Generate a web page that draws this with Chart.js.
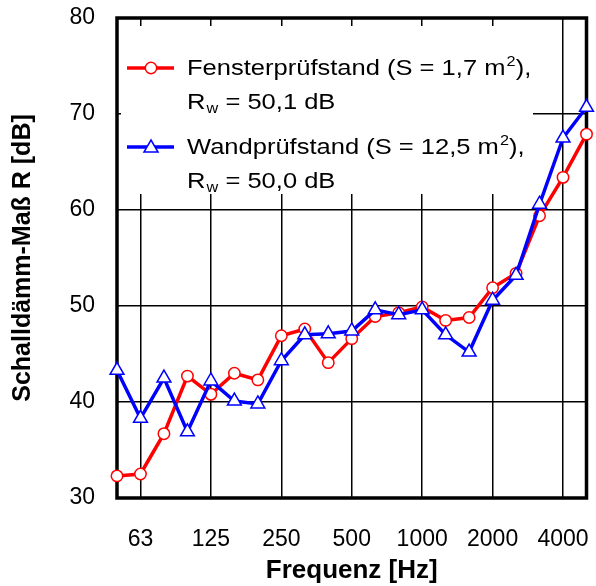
<!DOCTYPE html>
<html>
<head>
<meta charset="utf-8">
<script src="https://cdn.jsdelivr.net/npm/chart.js@4/dist/chart.umd.min.js"></script>
<style>
    html, body { margin: 0; padding: 0; background: #fff; }
    #wrap { width: 596px; height: 586px; }
</style>
</head>
<body>
<div id="wrap"><canvas id="schallChart"></canvas></div>
<script>
// Terzbänder und gemessene Schalldämm-Maße
const frequencies = [50, 63, 80, 100, 125, 160, 200, 250, 315, 400, 500, 630, 800, 1000, 1250, 1600, 2000, 2500, 3150, 4000, 5000];
const fensterR = [32.3, 32.5, 36.7, 42.7, 40.8, 43.0, 42.3, 46.9, 47.6, 44.1, 46.6, 48.9, 49.3, 49.9, 48.5, 48.8, 51.9, 53.4, 59.4, 63.4, 67.9];
const wandR = [43.3, 38.3, 42.5, 36.9, 42.2, 40.1, 39.8, 44.3, 47.0, 47.1, 47.4, 49.6, 49.1, 49.6, 47.0, 45.2, 50.6, 53.2, 60.6, 67.5, 70.7];
const tickFrequencies = [63, 125, 250, 500, 1000, 2000, 4000];
const yTicks = [30, 40, 50, 60, 70, 80];

const legendEntries = [
    { color: '#ff0000', marker: 'circle', line1: ['Fensterprüfstand (S = 1,7 m', '2', '),'], line2: ['R', 'w', ' = 50,1 dB'] },
    { color: '#0000ff', marker: 'triangle', line1: ['Wandprüfstand (S = 12,5 m', '2', '),'], line2: ['R', 'w', ' = 50,0 dB'] }
];

const FONT = "'Liberation Sans', Arial, sans-serif";
const STRETCH = 1.16;

function toPoints(values) {
    return values.map((v, i) => ({ x: i, y: v }));
}

// nach dem Raster: weißes Legendenfeld, Rahmen und Legende
const legendBox = {
    id: 'legendBox',
    beforeDatasetsDraw(chart) {
        const ctx = chart.ctx;
        const area = chart.chartArea;
        ctx.save();
        ctx.fillStyle = '#fff';
        ctx.fillRect(121, 26, 533 - 121, 194 - 26);

        ctx.lineWidth = 3.5;
        ctx.strokeStyle = '#000';
        ctx.strokeRect(area.left, area.top, area.right - area.left, area.bottom - area.top);

        const rows = [68, 147];
        legendEntries.forEach((entry, i) => {
            const y = rows[i];
            ctx.strokeStyle = entry.color;
            ctx.lineWidth = 3.5;
            ctx.beginPath();
            ctx.moveTo(127, y);
            ctx.lineTo(174, y);
            ctx.stroke();
            ctx.fillStyle = '#fff';
            ctx.lineWidth = 1.5;
            ctx.beginPath();
            if (entry.marker === 'circle') {
                ctx.arc(151, y, 5.7, 0, Math.PI * 2);
            } else {
                ctx.moveTo(151, y - 7);
                ctx.lineTo(158, y + 5);
                ctx.lineTo(144, y + 5);
                ctx.closePath();
            }
            ctx.fill();
            ctx.stroke();

            ctx.fillStyle = '#000';
            ctx.textBaseline = 'alphabetic';
            drawScripted(ctx, entry.line1, 187, y + 7, -9);
            drawScripted(ctx, entry.line2, 187, y + 41, 4);
        });
        ctx.restore();
    }
};

// Text mit hoch- bzw. tiefgestelltem Mittelteil, leicht in die Breite gezogen
function drawScripted(ctx, parts, x, y, shift) {
    ctx.save();
    ctx.translate(x, y);
    ctx.scale(STRETCH, 1);
    let cx = 0;
    ctx.font = '22px ' + FONT;
    ctx.fillText(parts[0], cx, 0);
    cx += ctx.measureText(parts[0]).width;
    ctx.font = '14px ' + FONT;
    ctx.fillText(parts[1], cx + 1, shift);
    cx += ctx.measureText(parts[1]).width + 1;
    ctx.font = '22px ' + FONT;
    ctx.fillText(parts[2], cx, 0);
    ctx.restore();
}

// Auto-Innenabstand der Achsen abschalten, Zeichenfläche fest halten
function noScalePadding(scale) {
    scale.paddingLeft = 0;
    scale.paddingRight = 0;
    scale.paddingTop = 0;
    scale.paddingBottom = 0;
}

new Chart(document.getElementById('schallChart'), {
    type: 'line',
    data: {
        datasets: [
            {
                label: 'Fensterprüfstand',
                data: toPoints(fensterR),
                borderColor: '#ff0000',
                backgroundColor: '#fff',
                borderWidth: 3.5,
                pointStyle: 'circle',
                pointRadius: 5.7,
                pointBorderWidth: 1.5,
                tension: 0,
                clip: false,
                order: 2
            },
            {
                label: 'Wandprüfstand',
                data: toPoints(wandR),
                borderColor: '#0000ff',
                backgroundColor: '#fff',
                borderWidth: 3.5,
                pointStyle: 'triangle',
                pointRadius: 8,
                pointBorderWidth: 1.5,
                tension: 0,
                clip: false,
                order: 1
            }
        ]
    },
    options: {
        responsive: true,
        maintainAspectRatio: false,
        animation: false,
        layout: { padding: { top: 18, right: 7, left: 0, bottom: 0 } },
        plugins: { legend: { display: false }, tooltip: { enabled: false } },
        scales: {
            x: {
                type: 'linear',
                min: 0,
                max: frequencies.length - 1,
                afterBuildTicks: scale => {
                    scale.ticks = tickFrequencies.map(f => ({ value: frequencies.indexOf(f) }));
                },
                afterFit: scale => {
                    scale.height = 88;
                    noScalePadding(scale);
                },
                grid: { color: '#000', lineWidth: 1.5, drawTicks: false },
                border: { display: false },
                ticks: {
                    autoSkip: false,
                    maxRotation: 0,
                    padding: 28,
                    color: '#000',
                    font: { family: FONT, size: 23 },
                    callback: v => frequencies[v]
                },
                title: {
                    display: true,
                    text: 'Frequenz [Hz]',
                    color: '#000',
                    font: { family: FONT, size: 26, weight: 'bold' },
                    padding: { top: 0, bottom: 0 }
                }
            },
            y: {
                min: 30,
                max: 80,
                afterBuildTicks: scale => {
                    scale.ticks = yTicks.map(v => ({ value: v }));
                },
                afterFit: scale => {
                    scale.width = 117;
                    noScalePadding(scale);
                },
                grid: { color: '#000', lineWidth: 1.5, drawTicks: false },
                border: { display: false },
                ticks: {
                    padding: 22,
                    color: '#000',
                    font: { family: FONT, size: 23 }
                },
                title: {
                    display: true,
                    text: 'Schalldämm-Maß R [dB]',
                    color: '#000',
                    font: { family: FONT, size: 25, weight: 'bold' },
                    padding: { top: 8, bottom: 0 }
                }
            }
        }
    },
    plugins: [legendBox]
});
</script>
</body>
</html>
